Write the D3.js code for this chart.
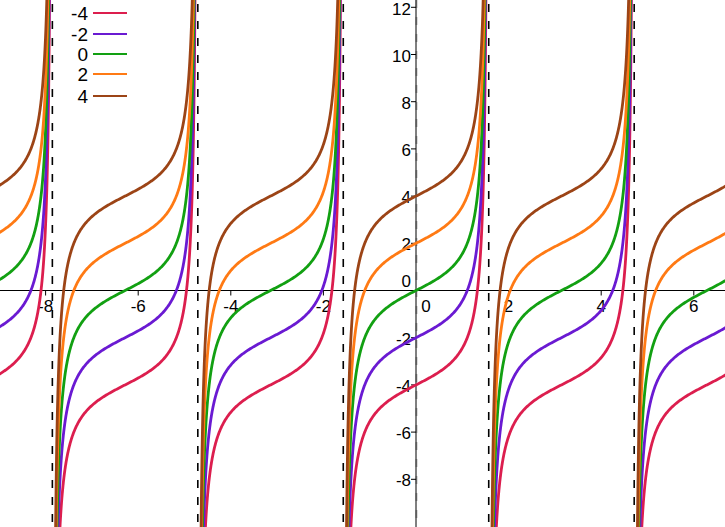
<!DOCTYPE html>
<html>
<head>
<meta charset="utf-8">
<script src="https://cdn.jsdelivr.net/npm/d3@7"></script>
<style>
html,body{margin:0;padding:0;background:#fff;}
svg{display:block;}
text{font-family:"Liberation Sans",Arial,sans-serif;}
</style>
</head>
<body>
<script>
// ---- data ----
const offsets = [-4, -2, 0, 2, 4];                 // c in y = tan(x) + c
const seriesLabels = ["-4", "-2", "0", "2", "4"];
const seriesColors = ["#dc1e4e", "#6a1ad2", "#12a012", "#ff7a14", "#9c4416"];
const xTicks = [-8, -6, -4, -2, 0, 2, 4, 6];
const yTicks = [-8, -6, -4, -2, 0, 2, 4, 6, 8, 10, 12];
const asymptoteHalfPis = [-5, -3, -1, 1, 3];      // x = k·π/2
const branchCenters = [-3, -2, -1, 0, 1, 2];      // branch centred at k·π

const W = 725, H = 527;
const x = d3.scaleLinear().domain([-416 / 46.3, (W - 416) / 46.3]).range([0, W]);
const y = d3.scaleLinear().domain([-(H - 290.5) / 23.6, 290.5 / 23.6]).range([H, 0]);

const svg = d3.select("body").append("svg").attr("width", W).attr("height", H);
svg.append("defs").append("clipPath").attr("id", "clip")
  .append("rect").attr("width", W).attr("height", H);

const X0 = x(0), Y0 = y(0);
const fmt = t => (t < 0 ? "-" + Math.abs(t) : String(t));

// faint dashed line at y-axis
svg.append("line").attr("x1", X0 + 0.5).attr("x2", X0 + 0.5).attr("y1", 0).attr("y2", H)
  .attr("stroke", "#bbb").attr("stroke-width", 2).attr("stroke-dasharray", "8,9");

// axes
svg.append("line").attr("x1", 0).attr("x2", W).attr("y1", Y0).attr("y2", Y0)
  .attr("stroke", "#000").attr("stroke-width", 1);
svg.append("line").attr("x1", X0).attr("x2", X0).attr("y1", 0).attr("y2", H)
  .attr("stroke", "#000").attr("stroke-width", 1);

// x ticks
const gx = svg.append("g");
xTicks.forEach(t => {
  const px = x(t);
  if (t !== 0) {
    gx.append("line").attr("x1", px).attr("x2", px).attr("y1", Y0).attr("y2", Y0 + 5)
      .attr("stroke", "#000");
    gx.append("text").attr("x", px).attr("y", Y0 + 21).attr("text-anchor", "middle")
      .attr("font-size", 17).text(fmt(t));
  } else {
    gx.append("text").attr("x", px + 10).attr("y", Y0 + 21).attr("text-anchor", "middle")
      .attr("font-size", 17).text("0");
  }
});
// y ticks
const gy = svg.append("g");
yTicks.forEach(t => {
  const py = y(t);
  if (t !== 0) {
    gy.append("line").attr("x1", X0 - 5).attr("x2", X0).attr("y1", py).attr("y2", py)
      .attr("stroke", "#000");
    gy.append("text").attr("x", X0 - 5).attr("y", Math.max(py + 7, 15)).attr("text-anchor", "end")
      .attr("font-size", 17).text(fmt(t));
  } else {
    gy.append("text").attr("x", X0 - 5).attr("y", py - 4).attr("text-anchor", "end")
      .attr("font-size", 17).text("0");
  }
});

// asymptotes
svg.append("g").selectAll("line").data(asymptoteHalfPis).join("line")
  .attr("x1", k => x(k * Math.PI / 2)).attr("x2", k => x(k * Math.PI / 2))
  .attr("y1", 0).attr("y2", H)
  .attr("stroke", "#000").attr("stroke-width", 1.6).attr("stroke-dasharray", "8,9")
  .attr("stroke-dashoffset", -4);

// curves
const line = d3.line().x(d => x(d[0])).y(d => y(d[1]));
const gc = svg.append("g").attr("clip-path", "url(#clip)");
offsets.forEach((c, i) => {
  branchCenters.forEach(m => {
    const pts = [];
    // parametrise each branch by its value v = tan(x - mπ)
    for (let v = -60; v <= 60; v += 0.02) {
      pts.push([m * Math.PI + Math.atan(v), v + c]);
    }
    gc.append("path").datum(pts).attr("d", line)
      .attr("fill", "none").attr("stroke", seriesColors[i])
      .attr("stroke-width", 2.8).attr("stroke-linejoin", "round");
  });
});

// legend
const lg = svg.append("g");
const legendY = [13, 34, 54, 74, 96];
seriesLabels.forEach((s, i) => {
  lg.append("text").attr("x", 88).attr("y", legendY[i] + 7).attr("text-anchor", "end")
    .attr("font-size", 19).text(s);
  lg.append("line").attr("x1", 93).attr("x2", 127).attr("y1", legendY[i]).attr("y2", legendY[i])
    .attr("stroke", seriesColors[i]).attr("stroke-width", 2);
});
</script>
</body>
</html>
